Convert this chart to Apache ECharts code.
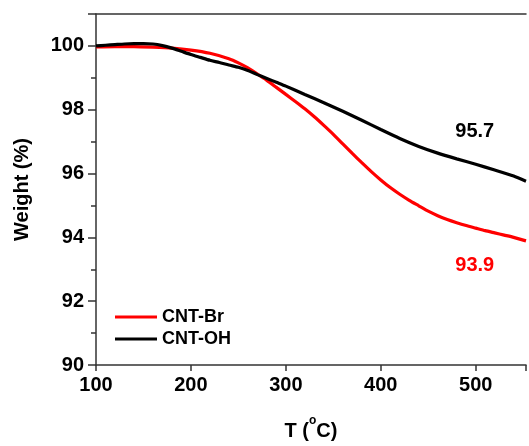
<!DOCTYPE html>
<html>
<head>
<meta charset="utf-8">
<script src="https://cdn.jsdelivr.net/npm/echarts@6/dist/echarts.min.js"></script>
<style>html,body{margin:0;padding:0;background:#fff}#c{width:529px;height:446px}</style>
</head>
<body>
<div id="c"></div>
<script>
// Temperature (°C) and weight (%)
const tempBr = [100,120,140,160,180,200,220,240,250,260,270,280,290,300,310,320,330,340,350,360,370,380,390,400,410,420,430,440,450,460,470,480,490,500,510,520,530,540,553];
const weightBr = [99.97,99.98,99.98,99.96,99.93,99.87,99.77,99.60,99.47,99.31,99.12,98.92,98.70,98.48,98.26,98.03,97.78,97.51,97.23,96.93,96.63,96.34,96.06,95.80,95.56,95.35,95.16,94.99,94.82,94.68,94.56,94.46,94.37,94.29,94.21,94.14,94.07,94.00,93.89];
const tempOH = [100,110,120,130,140,150,160,170,180,190,200,210,220,230,240,250,260,270,280,290,300,320,340,360,380,400,420,440,460,480,500,520,540,553];
const weightOH = [100.00,100.02,100.04,100.06,100.07,100.07,100.06,100.01,99.93,99.83,99.73,99.64,99.55,99.48,99.40,99.33,99.23,99.10,98.98,98.86,98.74,98.48,98.22,97.95,97.67,97.38,97.10,96.85,96.64,96.46,96.29,96.11,95.92,95.76];
const seriesNames = ['CNT-Br','CNT-OH'];
const endLabels = ['93.9','95.7'];
const endLabelPos = [[499,93.13],[499,97.31]];
const colors = ['#ff0000','#000000'];

const font = 'Liberation Sans, Arial, sans-serif';
const chart = echarts.init(document.getElementById('c'));
const toPairs = (xs, ys) => xs.map((x,i)=>[x, ys[i]]);
chart.setOption({
  animation:false,
  backgroundColor:'#fff',
  grid:{left:96, top:14, width:434, height:351},
  legend:{
    orient:'vertical', left:110, top:302, icon:'rect', itemWidth:42, itemHeight:3, itemGap:2,
    textStyle:{fontFamily:font, fontWeight:'bold', fontSize:18, color:'#000', lineHeight:20},
    data:seriesNames
  },
  xAxis:[{
    type:'value', min:100, max:553, interval:100,
    axisLine:{show:true, lineStyle:{color:'#333', width:1.5}},
    axisTick:{show:true, length:6, lineStyle:{color:'#333', width:1.5}},
    splitLine:{show:false},
    axisLabel:{fontFamily:font, fontWeight:'bold', fontSize:20, color:'#000', margin:10,
      formatter:v=> v<=500? String(v):''},
    name:'{a|T (}{s|o}{a|C)}', nameLocation:'middle', nameGap:50,
    nameTextStyle:{rich:{
      a:{fontFamily:font, fontWeight:'bold', fontSize:20, color:'#000', lineHeight:26, verticalAlign:'bottom'},
      s:{fontFamily:font, fontWeight:'bold', fontSize:12, color:'#000', lineHeight:12, verticalAlign:'top'}}}
  },{
    type:'value', position:'top', min:100, max:553,
    axisLine:{show:true, lineStyle:{color:'#333', width:1.5}},
    axisTick:{show:false}, axisLabel:{show:false}, splitLine:{show:false}
  }],
  yAxis:{
    type:'value', min:90, max:101, interval:2,
    axisLine:{show:true, lineStyle:{color:'#333', width:1.5}},
    axisTick:{show:true, length:8, lineStyle:{color:'#333', width:1.5}},
    minorTick:{show:true, splitNumber:2, length:5, lineStyle:{color:'#333', width:1.5}},
    splitLine:{show:false},
    axisLabel:{fontFamily:font, fontWeight:'bold', fontSize:20, color:'#000', margin:12,
      formatter:v=> v<=100? String(v):''},
    name:'Weight (%)', nameLocation:'middle', nameGap:64,
    nameTextStyle:{fontFamily:font, fontWeight:'bold', fontSize:20, color:'#000'}
  },
  series:[
    {name:seriesNames[0], type:'line', data:toPairs(tempBr, weightBr), showSymbol:false, smooth:0.2, z:2,
     lineStyle:{color:colors[0], width:3.2}, itemStyle:{color:colors[0]},
     markPoint:{symbol:'circle', symbolSize:0, silent:true,
       data:[{coord:endLabelPos[0], label:{show:true, position:'inside', formatter:endLabels[0], fontFamily:font, fontWeight:'bold', fontSize:20, color:colors[0]}}]}},
    {name:seriesNames[1], type:'line', data:toPairs(tempOH, weightOH), showSymbol:false, smooth:0.2, z:3,
     lineStyle:{color:colors[1], width:3.2}, itemStyle:{color:colors[1]},
     markPoint:{symbol:'circle', symbolSize:0, silent:true,
       data:[{coord:endLabelPos[1], label:{show:true, position:'inside', formatter:endLabels[1], fontFamily:font, fontWeight:'bold', fontSize:20, color:colors[1]}}]}}
  ]
});
</script>
</body>
</html>
